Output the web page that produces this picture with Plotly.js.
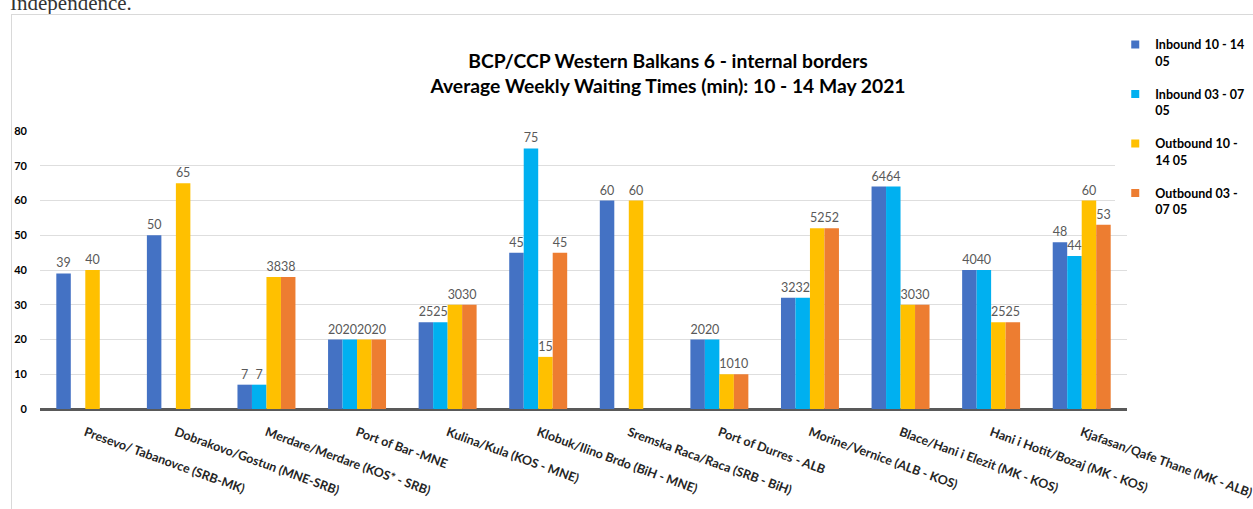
<!DOCTYPE html>
<html>
<head>
<meta charset="utf-8">
<script src="https://cdn.plot.ly/plotly-3.0.1.min.js"></script>
<style>
  html, body { margin: 0; padding: 0; background: #fff; }
  #wrap { position: relative; width: 1253px; height: 509px; overflow: hidden; }
  #ind { position: absolute; left: 10px; top: -9px; font-family: "Liberation Serif", "DejaVu Serif", serif; font-size: 21px; line-height: 24px; color: #333; }
  #chart { position: absolute; left: 11px; top: 14px; width: 1241px; height: 494px; border-left: 1px solid #d9d9d9; border-top: 1px solid #d9d9d9; }
</style>
</head>
<body>
<div id="wrap">
  <div id="ind">Independence.</div>
  <div id="chart"></div>
</div>
<script>
const categories = [
  "Presevo/ Tabanovce (SRB-MK)",
  "Dobrakovo/Gostun (MNE-SRB)",
  "Merdare/Merdare (KOS* - SRB)",
  "Port of Bar -MNE",
  "Kulina/Kula (KOS - MNE)",
  "Klobuk/Ilino Brdo (BiH - MNE)",
  "Sremska Raca/Raca (SRB - BiH)",
  "Port of Durres - ALB",
  "Morine/Vernice (ALB - KOS)",
  "Blace/Hani i Elezit (MK - KOS)",
  "Hani i Hotit/Bozaj (MK - KOS)",
  "Kjafasan/Qafe Thane (MK - ALB)"
];
const inbound1014  = [39, 50, 7, 20, 25, 45, 60, 20, 32, 64, 40, 48];
const inbound0307  = [null, null, 7, 20, 25, 75, null, 20, 32, 64, 40, 44];
const outbound1014 = [40, 65, 38, 20, 30, 15, 60, 10, 52, 30, 25, 60];
const outbound0307 = [null, null, 38, 20, 30, 45, null, 10, 52, 30, 25, 53];
const seriesNames = ["Inbound 10 - 14<br>05", "Inbound 03 - 07<br>05", "Outbound 10 -<br>14 05", "Outbound 03 -<br>07 05"];
const seriesColors = ["#4472C4", "#00B0F0", "#FFC000", "#ED7D31"];
const seriesValues = [inbound1014, inbound0307, outbound1014, outbound0307];
const yTicks = [0, 10, 20, 30, 40, 50, 60, 70, 80];

const FONT = "Lato, 'Open Sans', sans-serif";
const traces = [];
seriesValues.forEach((vals, i) => {
  traces.push({
    type: "bar",
    x: categories,
    y: vals,
    name: seriesNames[i],
    marker: { color: seriesColors[i] },
    texttemplate: "%{y}",
    textposition: "outside",
    cliponaxis: false,
    constraintext: "none",
    textfont: { family: FONT, size: 12.5, color: "#595959" },
    showlegend: false,
    hoverinfo: "x+y+name"
  });
});
seriesValues.forEach((vals, i) => {
  traces.push({
    type: "scatter",
    mode: "markers",
    x: [null],
    y: [null],
    name: seriesNames[i],
    marker: { color: seriesColors[i], symbol: "square", size: 8 },
    legendgroup: "g" + i,
    showlegend: true
  });
});

const layout = {
  width: 1241,
  height: 494,
  paper_bgcolor: "#ffffff",
  plot_bgcolor: "#ffffff",
  margin: { l: 28, r: 126, t: 116, b: 100, autoexpand: false },
  barmode: "group",
  bargap: 0.36,
  bargroupgap: 0,
  title: {
    text: "BCP/CCP Western Balkans 6 - internal borders<br>Average Weekly Waiting Times (min): 10 - 14 May 2021",
    font: { family: FONT, size: 19.3, color: "#000", weight: "bold" },
    xref: "container",
    x: 0.5286,
    xanchor: "center",
    yref: "container",
    y: 1 - 53 / 494,
    yanchor: "middle"
  },
  xaxis: {
    type: "category",
    automargin: false,
    tickangle: 20,
    tickfont: { family: FONT, size: 12.5, color: "#262626", weight: "bold" },
    showgrid: false,
    showline: true,
    linecolor: "#595959",
    linewidth: 1.5,
    ticks: "",
    ticklabelstandoff: 10
  },
  yaxis: {
    range: [0, 80],
    automargin: false,
    tickvals: yTicks,
    ticktext: yTicks.map(String),
    tickfont: { family: FONT, size: 11, color: "#000", weight: "bold" },
    showgrid: true,
    gridcolor: "#dedede",
    gridwidth: 1,
    zeroline: true,
    zerolinecolor: "#595959",
    zerolinewidth: 1.5,
    showline: false,
    ticks: "",
    ticklabelstandoff: 12
  },
  legend: {
    xref: "container",
    yref: "container",
    x: 0.889,
    xanchor: "left",
    y: 0.97,
    yanchor: "top",
    font: { family: FONT, size: 12.5, color: "#000", weight: "bold" },
    traceorder: "grouped",
    tracegroupgap: 14,
    valign: "top",
    itemwidth: 30
  },
  showlegend: true
};

Plotly.newPlot("chart", traces, layout, { displayModeBar: false });
</script>
</body>
</html>
